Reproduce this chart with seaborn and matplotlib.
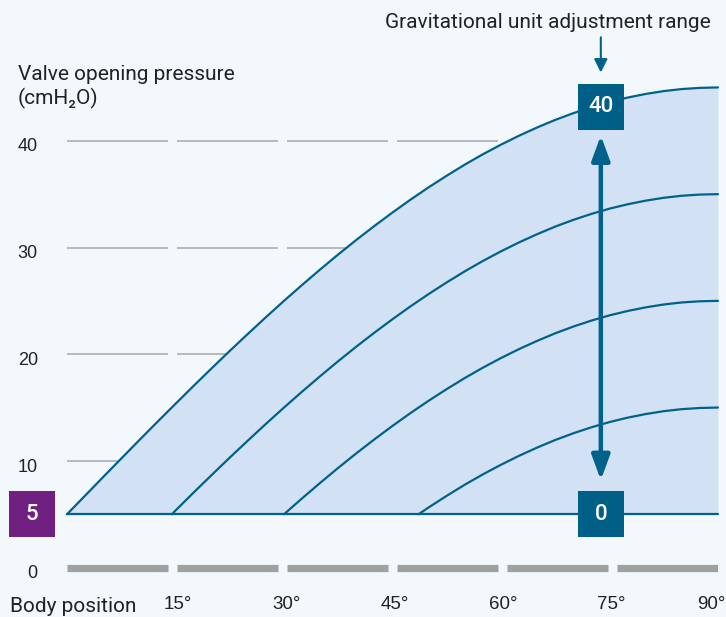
import numpy as np
import pandas as pd
import matplotlib
matplotlib.use("Agg")
import matplotlib.pyplot as plt
import seaborn as sns
from matplotlib.patches import Rectangle
from matplotlib.transforms import ScaledTranslation

# Values
base_pressure = 5

grid_angles = [0, 2.5, 5, 7.5, 10, 12.5, 15, 17.5, 20, 22.5, 25, 27.5, 30, 32.5, 35, 37.5,
               40, 42.5, 45, 47.5, 50, 52.5, 55, 57.5, 60, 62.5, 65, 67.5, 70, 72.5, 75,
               77.5, 80, 82.5, 85, 87.5, 90]

curve_angles_40 = grid_angles
curve_pressure_40 = [5, 6.74, 8.49, 10.22, 11.95, 13.66, 15.35, 17.03, 18.68, 20.31, 21.9,
                     23.47, 25.0, 26.49, 27.94, 29.35, 30.71, 32.02, 33.28, 34.49, 35.64,
                     36.73, 37.77, 38.74, 39.64, 40.48, 41.25, 41.96, 42.59, 43.15, 43.64,
                     44.05, 44.39, 44.66, 44.85, 44.96, 45.0]

curve_angles_30 = [14.5] + grid_angles[6:]
curve_pressure_30 = [5, 5.35, 7.03, 8.68, 10.31, 11.9, 13.47, 15.0, 16.49, 17.94, 19.35,
                     20.71, 22.02, 23.28, 24.49, 25.64, 26.73, 27.77, 28.74, 29.64, 30.48,
                     31.25, 31.96, 32.59, 33.15, 33.64, 34.05, 34.39, 34.66, 34.85, 34.96,
                     35.0]

curve_angles_20 = grid_angles[12:]
curve_pressure_20 = [5, 6.49, 7.94, 9.35, 10.71, 12.02, 13.28, 14.49, 15.64, 16.73, 17.77,
                     18.74, 19.64, 20.48, 21.25, 21.96, 22.59, 23.15, 23.64, 24.05, 24.39,
                     24.66, 24.85, 24.96, 25.0]

curve_angles_10 = [48.6] + grid_angles[20:]
curve_pressure_10 = [5, 5.64, 6.73, 7.77, 8.74, 9.64, 10.48, 11.25, 11.96, 12.59, 13.15,
                     13.64, 14.05, 14.39, 14.66, 14.85, 14.96, 15.0]

y_ticks = [0, 10, 20, 30, 40]
x_ticks = [15, 30, 45, 60, 75, 90]
x_tick_labels = ["15°", "30°", "45°", "60°", "75°", "90°"]

range_top = 40
range_bottom = 0
range_angle = 73.8

# Colours
BG = "#f3f8fc"
FILL = "#d2e1f3"
LINE = "#00628b"
BOX = "#005f87"
PURPLE = "#6f2080"
GRID = "#a8a8a8"
BAR = "#a0a0a0"
TEXT = "#222222"

sns.set_theme(style="white")
plt.rcParams["font.family"] = ["Roboto", "DejaVu Sans"]

# long table for seaborn
frames = []
for setting, xs, ys in [(40, curve_angles_40, curve_pressure_40),
                        (30, curve_angles_30, curve_pressure_30),
                        (20, curve_angles_20, curve_pressure_20),
                        (10, curve_angles_10, curve_pressure_10)]:
    frames.append(pd.DataFrame({"angle": xs, "pressure": ys, "setting": setting}))
df = pd.concat(frames, ignore_index=True)

W, H = 726, 617
fig = plt.figure(figsize=(W / 100, H / 100), dpi=100, facecolor=BG)
# axes: 0..90 deg spans px 67..718, bottom edge at px 590
ax = fig.add_axes([67 / W, 27 / H, 651 / W, 590 / H])
ax.set_facecolor(BG)
px_unit = 10.67
zero_px = 567.6
ax.set_xlim(0, 90)
ax.set_ylim(-(590 - zero_px) / px_unit, zero_px / px_unit)

# broken gridlines and gray bars
seg_step = 90 * 110 / 651
seg_len = 90 * 101 / 651
seg_starts = np.arange(6) * seg_step
seg_ends = seg_starts + seg_len
for y in y_ticks[1:]:
    ax.hlines([y] * 6, seg_starts, seg_ends, color=GRID, lw=1.1, zorder=1)
ax.hlines([0] * 6, seg_starts, seg_ends, color=BAR, lw=5.2, zorder=1)

# shaded range
ax.fill_between(curve_angles_40, base_pressure, curve_pressure_40, color=FILL, lw=0, zorder=2)
ax.axhline(base_pressure, color=LINE, lw=1.6, zorder=3, clip_on=False)
sns.lineplot(data=df, x="angle", y="pressure", units="setting", estimator=None,
             sort=False, color=LINE, lw=1.6, ax=ax, zorder=3, clip_on=False)
ax.set_xlabel("")
ax.set_ylabel("")
for s in ax.spines.values():
    s.set_visible(False)

# ticks
ax.set_yticks(y_ticks, labels=[str(v) for v in y_ticks])
ax.set_xticks(x_ticks, labels=x_tick_labels)
ax.tick_params(axis="y", length=0, pad=21, labelsize=13, labelcolor=TEXT)
ax.tick_params(axis="x", length=0, pad=4, labelsize=13.5, labelcolor=TEXT)
down = ScaledTranslation(0, -3 / 72, fig.dpi_scale_trans)
for lbl in ax.get_yticklabels():
    lbl.set_fontfamily(["Liberation Sans"])
    lbl.set_transform(lbl.get_transform() + down)
right = ScaledTranslation(1.5 / 72, 0, fig.dpi_scale_trans)
xl = ax.get_xticklabels()
for lbl in xl:
    lbl.set_fontfamily(["Liberation Sans"])
    lbl.set_transform(lbl.get_transform() + right)
xl[-1].set_horizontalalignment("right")
xl[-1].set_transform(xl[-1].get_transform() + ScaledTranslation(4 / 72, 0, fig.dpi_scale_trans))
ax.set_xlim(0, 90)

# boxes
bw = 46 / 7.233
bh = 46 / px_unit


def value_box(xc, yc, text, color):
    ax.add_patch(Rectangle((xc - bw / 2, yc - bh / 2), bw, bh, color=color,
                           clip_on=False, zorder=5, lw=0))
    ax.text(xc, yc, text, ha="center", va="center", color="white", fontsize=16,
            fontweight="medium", zorder=6, family=["Roboto", "DejaVu Sans"])


value_box(range_angle, 43.2, str(range_top), BOX)
value_box(range_angle, base_pressure, str(range_bottom), BOX)
value_box(-4.84, base_pressure, str(base_pressure), PURPLE)

# arrows
ax.annotate("", xy=(range_angle, 40.5), xytext=(range_angle, 8.2),
            arrowprops=dict(arrowstyle="<|-|>,head_length=1.5,head_width=0.55",
                            mutation_scale=10, color=LINE, lw=3.2,
                            shrinkA=0, shrinkB=0), zorder=4)
ax.annotate("", xy=(range_angle, 46.4), xytext=(range_angle, 49.7),
            arrowprops=dict(arrowstyle="-|>,head_length=0.8,head_width=0.4",
                            mutation_scale=10, color=LINE, lw=1.5,
                            shrinkA=0, shrinkB=0), annotation_clip=False)

# texts
fig.text(548 / W, 1 - 22 / H, "Gravitational unit adjustment range", ha="center",
         va="center", fontsize=15, color=TEXT)
fig.text(18 / W, 1 - 74 / H, "Valve opening pressure", ha="left", va="center",
         fontsize=15, color=TEXT)
fig.text(18 / W, 1 - 98 / H, "(cmH₂O)", ha="left", va="center", fontsize=15, color=TEXT)
fig.text(10 / W, 1 - 606 / H, "Body position", ha="left", va="center", fontsize=15,
         color=TEXT)

fig.savefig("out.png", dpi=100, facecolor=BG)
